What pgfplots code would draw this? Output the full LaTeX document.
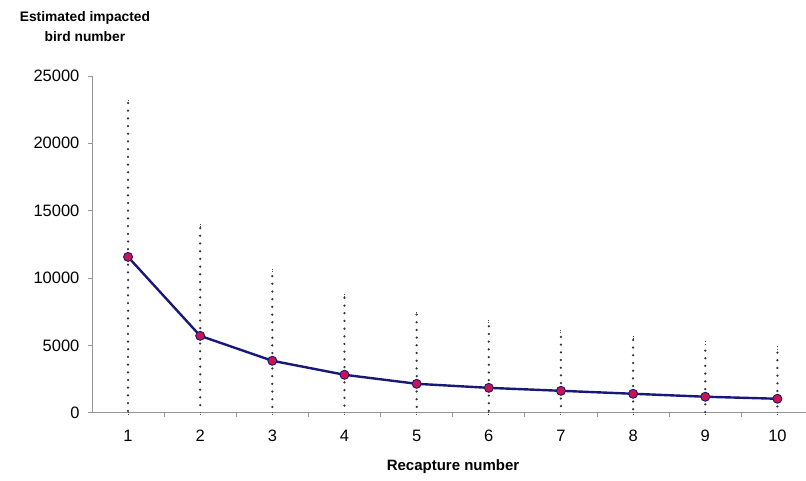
\documentclass[border=0pt]{standalone}
\usepackage{pgfplots}
\pgfplotsset{compat=1.18}
\usepackage{fontspec}
\setmainfont{Liberation Sans}
\definecolor{navy}{RGB}{24,24,120}
\definecolor{dotred}{RGB}{200,20,80}
\definecolor{axgray}{RGB}{150,150,150}
\begin{document}
\begin{tikzpicture}
\begin{axis}[
  at={(92pt,68pt)}, anchor=south west,
  scale only axis, width=714pt, height=337pt,
  xmin=0.5, xmax=10.39, ymin=0, ymax=25000,
  axis x line*=bottom, axis y line*=left,
  axis line style={axgray, line width=0.9pt},
  every tick/.style={axgray, line width=0.8pt},
  tick align=outside,
  major tick length=4pt,
  xtick={1.5,2.5,...,9.5}, xticklabels={},
  extra x ticks={1,2,3,4,5,6,7,8,9,10},
  extra x tick style={major tick length=0pt, xticklabel style={font=\fontsize{16.5}{19}\selectfont, yshift=-14pt}},
  ytick={0,5000,10000,15000,20000,25000},
  scaled y ticks=false,
  /pgf/number format/assume math mode=true,
  yticklabel style={/pgf/number format/1000 sep={}, font=\fontsize{16.5}{19}\selectfont, xshift=-5pt},
  clip=false,
]
\addplot[draw=none, mark=none, forget plot,
  error bars/.cd, y dir=both, y explicit,
  error bar style={black!80, line width=2.5pt, line cap=round, dash pattern=on 0pt off 7.7pt},
  error mark=-, error mark options={black!70, line width=1pt, mark size=2.3pt, dash pattern=on 1pt off 1.3pt}]
coordinates {
 (1,11570) += (0,11500) -= (0,11570)
 (2,5710)  += (0,8160)  -= (0,5710)
 (3,3860)  += (0,6670)  -= (0,3860)
 (4,2820)  += (0,5860)  -= (0,2820)
 (5,2150)  += (0,5190)  -= (0,2150)
 (6,1850)  += (0,4900)  -= (0,1850)
 (7,1630)  += (0,4370)  -= (0,1630)
 (8,1410)  += (0,4150)  -= (0,1410)
 (9,1190)  += (0,3930)  -= (0,1190)
 (10,1040) += (0,3710)  -= (0,1040)
};
\addplot[navy, line width=2.4pt, mark=*, mark size=4.5pt,
  mark options={fill=dotred, draw=navy, line width=0.9pt}]
coordinates {
 (1,11570) (2,5710) (3,3860) (4,2820) (5,2150)
 (6,1850) (7,1630) (8,1410) (9,1190) (10,1040)
};
\node[align=center, font=\bfseries\fontsize{13.8}{20}\selectfont]
  at (rel axis cs:0,1) [xshift=-7pt, yshift=49pt] {Estimated impacted\\bird number};
\node[font=\bfseries\fontsize{15}{18}\selectfont]
  at (rel axis cs:0.506,0) [yshift=-54pt] {Recapture number};
\end{axis}
\path[use as bounding box] (0,0) rectangle (806pt,481pt);
\end{tikzpicture}
\end{document}
